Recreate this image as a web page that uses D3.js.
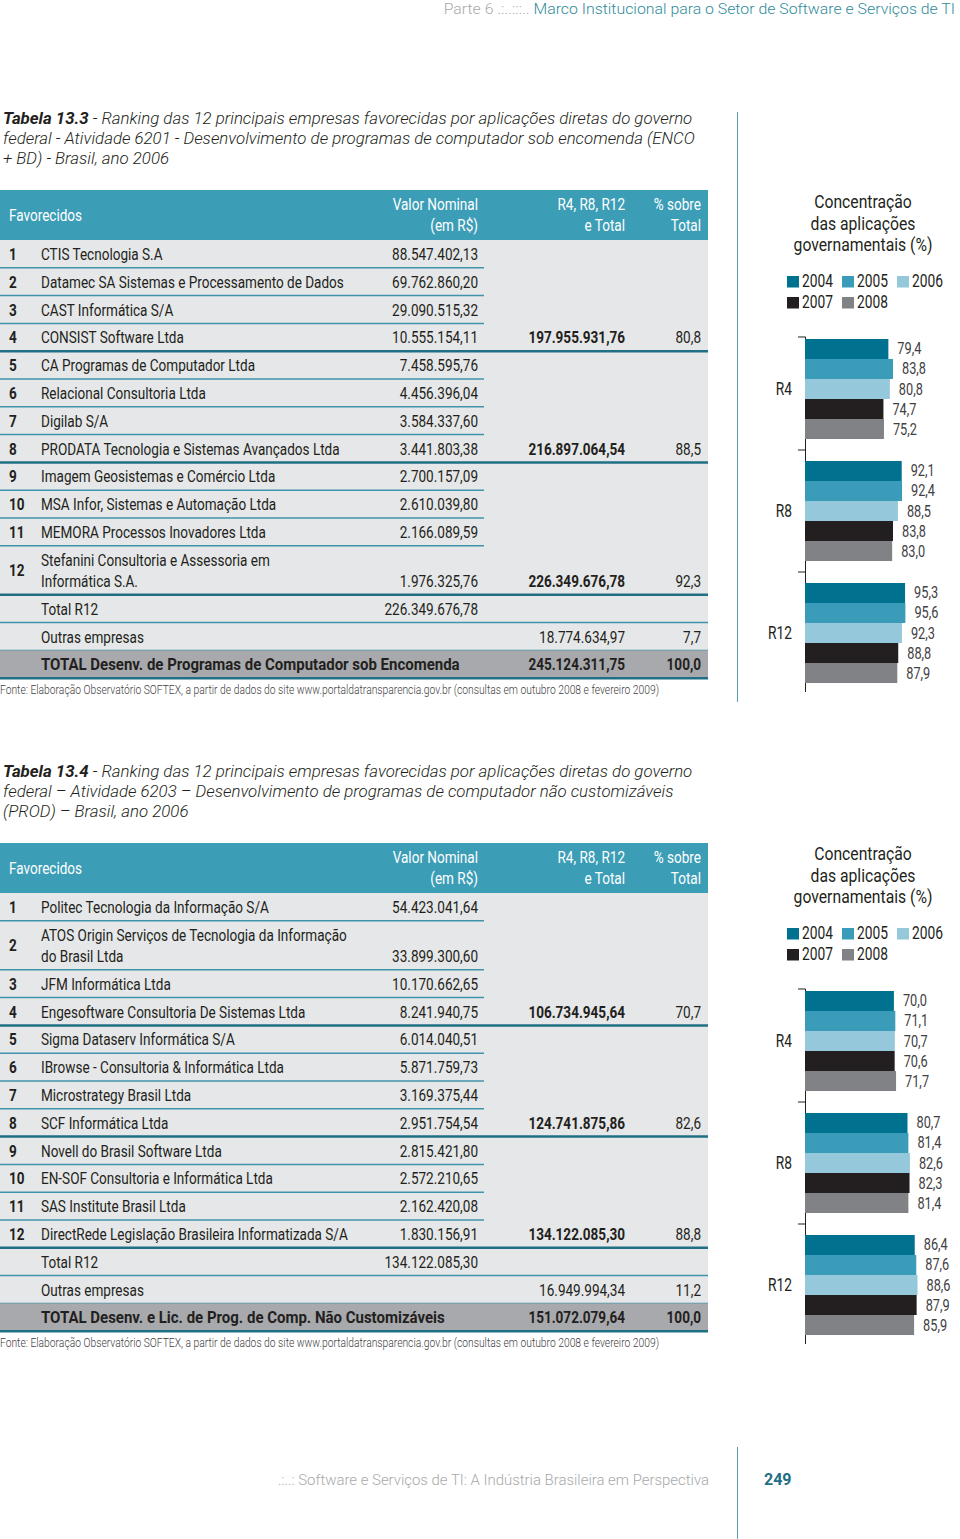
<!DOCTYPE html>
<html><head><meta charset="utf-8">
<script src="https://cdn.jsdelivr.net/npm/d3@7"></script>
<style>html,body{margin:0;padding:0;background:#fff}svg{display:block}</style>
</head><body>
<script>
// ---------------- DATA ----------------
const years = ["2004", "2005", "2006", "2007", "2008"];
const groups = ["R4", "R8", "R12"];

const t1Ranks = ["1","2","3","4","5","6","7","8","9","10","11","12"];
const t1Names = [
  "CTIS Tecnologia S.A",
  "Datamec SA Sistemas e Processamento de Dados",
  "CAST Informática S/A",
  "CONSIST Software Ltda",
  "CA Programas de Computador Ltda",
  "Relacional Consultoria Ltda",
  "Digilab S/A",
  "PRODATA Tecnologia e Sistemas Avançados Ltda",
  "Imagem Geosistemas e Comércio Ltda",
  "MSA Infor, Sistemas e Automação Ltda",
  "MEMORA Processos Inovadores Ltda",
  "Stefanini Consultoria e Assessoria em\nInformática S.A."
];
const t1Valor = ["88.547.402,13","69.762.860,20","29.090.515,32","10.555.154,11","7.458.595,76","4.456.396,04",
  "3.584.337,60","3.441.803,38","2.700.157,09","2.610.039,80","2.166.089,59","1.976.325,76"];
const t1Cum = ["","","","197.955.931,76","","","","216.897.064,54","","","","226.349.676,78"];
const t1Pct = ["","","","80,8","","","","88,5","","","","92,3"];
const t1SumLabels = ["Total R12", "Outras empresas", "TOTAL Desenv. de Programas de Computador sob Encomenda"];
const t1SumValor = ["226.349.676,78", "", ""];
const t1SumCum = ["", "18.774.634,97", "245.124.311,75"];
const t1SumPct = ["", "7,7", "100,0"];

const t2Ranks = ["1","2","3","4","5","6","7","8","9","10","11","12"];
const t2Names = [
  "Politec Tecnologia da Informação S/A",
  "ATOS Origin Serviços de Tecnologia da Informação\ndo Brasil Ltda",
  "JFM Informática Ltda",
  "Engesoftware Consultoria De Sistemas Ltda",
  "Sigma Dataserv Informática S/A",
  "IBrowse - Consultoria & Informática Ltda",
  "Microstrategy Brasil Ltda",
  "SCF Informática Ltda",
  "Novell do Brasil Software Ltda",
  "EN-SOF Consultoria e Informática Ltda",
  "SAS Institute Brasil Ltda",
  "DirectRede Legislação Brasileira Informatizada S/A"
];
const t2Valor = ["54.423.041,64","33.899.300,60","10.170.662,65","8.241.940,75","6.014.040,51","5.871.759,73",
  "3.169.375,44","2.951.754,54","2.815.421,80","2.572.210,65","2.162.420,08","1.830.156,91"];
const t2Cum = ["","","","106.734.945,64","","","","124.741.875,86","","","","134.122.085,30"];
const t2Pct = ["","","","70,7","","","","82,6","","","","88,8"];
const t2SumLabels = ["Total R12", "Outras empresas", "TOTAL Desenv. e Lic. de Prog. de Comp. Não Customizáveis"];
const t2SumValor = ["134.122.085,30", "", ""];
const t2SumCum = ["", "16.949.994,34", "151.072.079,64"];
const t2SumPct = ["", "11,2", "100,0"];

// chart values: [2004, 2005, 2006, 2007, 2008]
const c1R4  = [79.4, 83.8, 80.8, 74.7, 75.2];
const c1R8  = [92.1, 92.4, 88.5, 83.8, 83.0];
const c1R12 = [95.3, 95.6, 92.3, 88.8, 87.9];
const c2R4  = [70.0, 71.1, 70.7, 70.6, 71.7];
const c2R8  = [80.7, 81.4, 82.6, 82.3, 81.4];
const c2R12 = [86.4, 87.6, 88.6, 87.9, 85.9];

const title1 = ["Tabela 13.3", " - Ranking das 12 principais empresas favorecidas por aplicações diretas do governo",
  "federal - Atividade 6201 - Desenvolvimento de programas de computador sob encomenda (ENCO",
  "+ BD) - Brasil, ano 2006"];
const title2 = ["Tabela 13.4", " - Ranking das 12 principais empresas favorecidas por aplicações diretas do governo",
  "federal – Atividade 6203 – Desenvolvimento de programas de computador não customizáveis",
  "(PROD) – Brasil, ano 2006"];
const sourceText = "Fonte: Elaboração Observatório SOFTEX, a partir de dados do site www.portaldatransparencia.gov.br (consultas em outubro 2008 e fevereiro 2009)";
const chartTitle = ["Concentração", "das aplicações", "governamentais (%)"];
const pageHeadGrey = "Parte 6 .:..:::.. ";
const pageHeadTeal = "Marco Institucional para o Setor de Software e Serviços de TI";
const pageFoot = ".:..: Software e Serviços de TI: A Indústria Brasileira em Perspectiva";
const pageNum = "249";

// ---------------- STYLE ----------------
const yearColors = ["#00718f", "#3a9cb8", "#94c8da", "#231f20", "#808285"];
const TEAL = "#3c9db7", DARK = "#231f20";

// ---------------- FONTS ----------------
const ctx = document.createElement("canvas").getContext("2d");
function hasFont(f) {
  const s = "mmmmwwwwiiiilll 0123456789 AbcdefgXYZ";
  for (const fb of ["monospace", "serif"]) {
    ctx.font = `20px ${fb}`; const a = ctx.measureText(s).width;
    ctx.font = `20px "${f}", ${fb}`; const b = ctx.measureText(s).width;
    if (Math.abs(a - b) > 0.5) return true;
  }
  return false;
}
function measure(str, font) { ctx.font = font; return ctx.measureText(str).width; }
const FONT = hasFont("Roboto") ? "Roboto" : "Liberation Sans";
const REG = 400;
const kx = 303 / measure("Datamec SA Sistemas e Processamento de Dados", `${REG} 17px "${FONT}"`);
const kTot = 419 / measure("TOTAL Desenv. de Programas de Computador sob Encomenda", `700 17px "${FONT}"`);

const svg = d3.select("body").append("svg").attr("width", 960).attr("height", 1539);

function ctext(p, str, x, y, o = {}) {
  return p.append("text")
    .attr("transform", `translate(${x},${y}) scale(${o.k || kx},1)`)
    .attr("font-family", `"${FONT}", sans-serif`)
    .attr("font-size", o.size || 17)
    .attr("font-weight", o.weight || REG)
    .attr("text-anchor", o.anchor || "start")
    .attr("fill", o.fill || DARK)
    .text(str);
}
function fitK(str, size, weight, width) { return width / measure(str, `${weight} ${size}px "${FONT}"`); }

// ---------------- PAGE HEADER / FOOTER ----------------
{
  const fs = 15;
  const k = 512 / measure(pageHeadGrey + pageHeadTeal, `300 ${fs}px "${FONT}"`);
  const t = svg.append("text").attr("transform", `translate(955,14) scale(${k},1)`)
    .attr("font-family", `"${FONT}", sans-serif`).attr("font-weight", 300).attr("font-size", fs)
    .attr("text-anchor", "end");
  t.append("tspan").attr("fill", "#a7a9ac").text(pageHeadGrey);
  t.append("tspan").attr("fill", "#2f8c9c").text(pageHeadTeal);

  const wf = measure(pageFoot, `300 ${fs}px "${FONT}"`);
  svg.append("text").attr("transform", `translate(709,1485) scale(${432 / wf},1)`)
    .attr("font-family", `"${FONT}", sans-serif`).attr("font-weight", 300).attr("font-size", fs)
    .attr("text-anchor", "end").attr("fill", "#a7a9ac").text(pageFoot);
  svg.append("text").attr("x", 764).attr("y", 1485)
    .attr("font-family", `"${FONT}", sans-serif`).attr("font-weight", 700).attr("font-size", 16)
    .attr("fill", "#1f6f85").text(pageNum);
  svg.append("line").attr("x1", 737.5).attr("x2", 737.5).attr("y1", 1447).attr("y2", 1539)
    .attr("stroke", "#5a9fb2").attr("stroke-width", 1);
  svg.append("line").attr("x1", 737.5).attr("x2", 737.5).attr("y1", 112).attr("y2", 702)
    .attr("stroke", "#5a9fb2").attr("stroke-width", 1);
}

// ---------------- TITLES ----------------
function drawTitle(lines, y0) {
  const fs = 17;
  const w1 = measure(lines[0], `italic 700 ${fs}px "${FONT}"`) + measure(lines[1], `italic 300 ${fs}px "${FONT}"`);
  const k = 690 / w1;
  const g = svg.append("g");
  const mk = (y) => g.append("text").attr("transform", `translate(3,${y}) scale(${k},1)`)
    .attr("font-family", `"${FONT}", sans-serif`).attr("font-size", fs).attr("font-style", "italic")
    .attr("font-weight", 300).attr("fill", DARK);
  const t = mk(y0);
  t.append("tspan").attr("font-weight", 700).text(lines[0]);
  t.append("tspan").text(lines[1]);
  mk(y0 + 20).text(lines[2]);
  mk(y0 + 39.5).text(lines[3]);
}
drawTitle(title1, 124);
drawTitle(title2, 777);

// ---------------- TABLES ----------------
const COLX = { rank: 9, name: 41, valor: 478, cum: 625, pct: 701, right: 708, partial: 484 };
const kSrc = fitK(sourceText, 12, 300, 660);
function drawTable(top, ranks, names, valor, cum, pct, sL, sV, sC, sP) {
  const g = svg.append("g");
  const rows = ranks.map((r, i) => ({ rank: r, name: names[i], val: valor[i], cum: cum[i], pct: pct[i],
    kind: cum[i] ? "group" : "plain" }));
  sL.forEach((l, i) => rows.push({ rank: "", name: l, val: sV[i], cum: sC[i], pct: sP[i],
    kind: i === sL.length - 1 ? "total" : "sum" }));
  const RH = 27.8, RH2 = 49, HH = 50;
  let y = top + HH;
  rows.forEach(r => { r.h = r.name.includes("\n") ? RH2 : RH; r.y = y; y += r.h; });
  const bottom = y;

  g.append("rect").attr("x", 0).attr("y", top + HH).attr("width", COLX.right).attr("height", bottom - top - HH)
    .attr("fill", "#e6e7e8");
  g.append("rect").attr("x", 0).attr("y", top).attr("width", COLX.right).attr("height", HH).attr("fill", TEAL);
  // header
  ctext(g, "Favorecidos", COLX.rank, top + HH / 2 + 6, { fill: "#fff" });
  ctext(g, "Valor Nominal", COLX.valor, top + 20, { fill: "#fff", anchor: "end" });
  ctext(g, "(em R$)", COLX.valor, top + 41, { fill: "#fff", anchor: "end" });
  ctext(g, "R4, R8, R12", COLX.cum, top + 20, { fill: "#fff", anchor: "end" });
  ctext(g, "e Total", COLX.cum, top + 41, { fill: "#fff", anchor: "end" });
  ctext(g, "% sobre", COLX.pct, top + 20, { fill: "#fff", anchor: "end" });
  ctext(g, "Total", COLX.pct, top + 41, { fill: "#fff", anchor: "end" });

  rows.forEach(r => {
    if (r.kind === "total") g.append("rect").attr("x", 0).attr("y", r.y).attr("width", COLX.right)
      .attr("height", r.h).attr("fill", "#a7a9ac");
    const isTot = r.kind === "total";
    const bold = isTot ? 700 : REG;
    const lines = r.name.split("\n");
    const baseLast = lines.length > 1 ? r.y + 35 + 6 : r.y + r.h / 2 + 6;
    if (r.rank) ctext(g, r.rank, COLX.rank, r.y + r.h / 2 + 6, { weight: 700 });
    lines.forEach((ln, i) => {
      const by = lines.length > 1 ? r.y + 14 + 21 * i + 6 : baseLast;
      ctext(g, ln, COLX.name, by, { weight: bold, k: isTot ? kTot : kx });
    });
    if (r.val) ctext(g, r.val, COLX.valor, baseLast, { anchor: "end" });
    if (r.cum) ctext(g, r.cum, COLX.cum, baseLast, { anchor: "end", weight: r.kind === "sum" ? REG : 700 });
    if (r.pct) ctext(g, r.pct, COLX.pct, baseLast, { anchor: "end", weight: bold });
    // separator
    const yb = r.y + r.h;
    let x2 = COLX.partial, sw = 1.5, col = "#3f94ab";
    if (r.kind === "group" || isTot) { x2 = COLX.right; sw = 2.5; col = "#1f6f85"; }
    else if (r.kind === "sum") { x2 = COLX.right; }
    g.append("line").attr("x1", 0).attr("x2", x2).attr("y1", yb).attr("y2", yb)
      .attr("stroke", col).attr("stroke-width", sw);
  });
  ctext(g, sourceText, 0, bottom + 16, { size: 12, k: kSrc, weight: 300, fill: "#414042" });
}
drawTable(190, t1Ranks, t1Names, t1Valor, t1Cum, t1Pct, t1SumLabels, t1SumValor, t1SumCum, t1SumPct);
drawTable(843, t2Ranks, t2Names, t2Valor, t2Cum, t2Pct, t2SumLabels, t2SumValor, t2SumCum, t2SumPct);

// ---------------- CHARTS ----------------
const fmt = v => d3.format(".1f")(v).replace(".", ",");
const kTitle = fitK("governamentais (%)", 18, REG, 139);
const kLeg = fitK("2004", 17.5, REG, 31);
const kVal = fitK("79,4", 16, 400, 24);
function drawChart(top, series, xMaxPx) {
  const g = svg.append("g");
  chartTitle.forEach((t, i) => ctext(g, t, 863, top + 18 + 21.5 * i, { anchor: "middle", size: 18, k: kTitle }));
  // legend
  const legX = [787, 842, 897];
  years.forEach((yr, i) => {
    const lx = legX[i % 3], ly = top + 97 + 21 * Math.floor(i / 3);
    g.append("rect").attr("x", lx).attr("y", ly - 11).attr("width", 12).attr("height", 11.5).attr("fill", yearColors[i]);
    ctext(g, yr, lx + 15, ly, { size: 17.5, k: kLeg });
  });
  const x = d3.scaleLinear().domain([0, 100]).range([805, xMaxPx]);
  const yG = d3.scaleBand().domain(groups).range([top + 138, top + 504]).paddingInner(0.18).paddingOuter(0.09);
  const yY = d3.scaleBand().domain(years).range([0, yG.bandwidth()]);
  const step = yG.step();
  // axis
  const axTop = yG("R4") - 2;
  g.append("line").attr("x1", 805.5).attr("x2", 805.5).attr("y1", axTop).attr("y2", top + 502)
    .attr("stroke", DARK).attr("stroke-width", 1);
  const ticks = [axTop, yG("R8") - step * 0.09, yG("R12") - step * 0.09];
  ticks.forEach(t => g.append("line").attr("x1", 798).attr("x2", 805.5).attr("y1", t).attr("y2", t)
    .attr("stroke", DARK).attr("stroke-width", 1));
  groups.forEach((grp, gi) => {
    ctext(g, grp, 792, yG(grp) + yG.bandwidth() / 2 + 6, { anchor: "end", size: 17.5, k: kLeg });
    series[gi].forEach((v, i) => {
      g.append("rect").attr("x", x(0)).attr("y", yG(grp) + yY(years[i]))
        .attr("width", x(v) - x(0)).attr("height", yY.bandwidth()).attr("fill", yearColors[i]);
      ctext(g, fmt(v), x(v) + 9, yG(grp) + yY(years[i]) + yY.bandwidth() / 2 + 5.5,
        { size: 16, k: kVal, weight: 400, fill: "#414042" });
    });
  });
}
drawChart(190, [c1R4, c1R8, c1R12], 910);
drawChart(842, [c2R4, c2R8, c2R12], 932);
</script>
</body></html>
